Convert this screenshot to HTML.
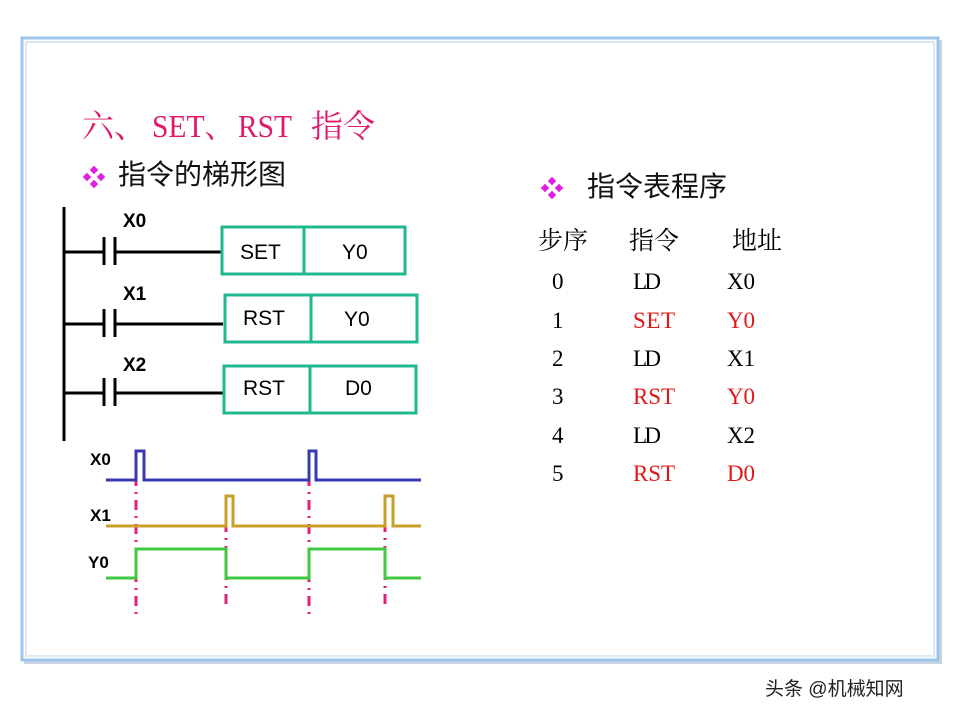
<!DOCTYPE html>
<html><head><meta charset="utf-8"><style>
html,body{margin:0;padding:0;background:#fff;width:960px;height:720px;overflow:hidden}
svg{display:block}
.cjk{font-family:"Liberation Serif","Noto Serif CJK SC","Noto Sans CJK SC",serif}
.sans{font-family:"Liberation Sans","Noto Sans CJK SC",sans-serif}
</style></head><body>
<svg width="960" height="720" viewBox="0 0 960 720" xmlns="http://www.w3.org/2000/svg">
<rect x="24" y="40" width="918" height="624" fill="#c8d4e0"/>
<rect x="22" y="38" width="916" height="622" fill="#fff" stroke="#9cc4ec" stroke-width="3"/>
<rect x="26" y="42" width="908" height="614" fill="none" stroke="#dbe9f7" stroke-width="2"/>

<g class="cjk" font-size="32" fill="#e0196c">
<text x="82" y="137">六、</text>
<text x="152" y="137" textLength="82" lengthAdjust="spacingAndGlyphs">SET、</text>
<text x="238" y="137" textLength="54" lengthAdjust="spacingAndGlyphs">RST</text>
<text x="311" y="137">指令</text>
</g>
<g fill="#e020e0"><rect x="91" y="167" width="6" height="6" transform="rotate(45 94 170)"/><rect x="84" y="174" width="6" height="6" transform="rotate(45 87 177)"/><rect x="98" y="174" width="6" height="6" transform="rotate(45 101 177)"/><rect x="91" y="181" width="6" height="6" transform="rotate(45 94 184)"/></g>
<text x="118" y="184" class="sans" font-size="28" fill="#111">指令的梯形图</text>

<g stroke="#000" stroke-width="3" fill="none">
<line x1="64" y1="207" x2="64" y2="441"/>
<line x1="64" y1="252" x2="103" y2="252"/><line x1="116" y1="252" x2="221" y2="252"/>
<line x1="64" y1="324" x2="103" y2="324"/><line x1="116" y1="324" x2="223" y2="324"/>
<line x1="64" y1="393" x2="103" y2="393"/><line x1="116" y1="393" x2="223" y2="393"/>
<line x1="104" y1="237" x2="104" y2="265"/><line x1="115" y1="237" x2="115" y2="265"/>
<line x1="104" y1="309" x2="104" y2="337"/><line x1="115" y1="309" x2="115" y2="337"/>
<line x1="104" y1="378" x2="104" y2="406"/><line x1="115" y1="378" x2="115" y2="406"/>
</g>
<g stroke="#20b890" stroke-width="3" fill="none">
<rect x="222" y="227" width="183" height="47"/><line x1="304" y1="227" x2="304" y2="274"/>
<rect x="225" y="295" width="192" height="47"/><line x1="311" y1="295" x2="311" y2="342"/>
<rect x="224" y="366" width="192" height="47"/><line x1="310" y1="366" x2="310" y2="413"/>
</g>
<g class="sans" font-size="21" fill="#000">
<text x="240" y="259">SET</text><text x="342" y="259">Y0</text>
<text x="243" y="325">RST</text><text x="344" y="326">Y0</text>
<text x="243" y="395">RST</text><text x="345" y="395">D0</text>
</g>
<g class="sans" font-size="19" font-weight="bold" fill="#000">
<text x="123" y="227">X0</text><text x="123" y="300">X1</text><text x="123" y="371">X2</text>
</g>

<g class="sans" font-size="17" font-weight="bold" fill="#000">
<text x="90" y="465">X0</text><text x="90" y="521">X1</text><text x="88" y="568">Y0</text>
</g>
<g stroke="#e0207a" stroke-width="3" stroke-dasharray="10,6,2,6" fill="none">
<line x1="136" y1="452" x2="136" y2="616"/>
<line x1="226" y1="498" x2="226" y2="608"/>
<line x1="309" y1="452" x2="309" y2="616"/>
<line x1="385" y1="498" x2="385" y2="605"/>
</g>
<polyline points="106,480 136,480 136,451 144,451 144,480 309,480 309,451 316,451 316,480 421,480" stroke="#3838b0" stroke-width="3" fill="none"/>
<polyline points="106,526 226,526 226,496 233,496 233,526 385,526 385,496 393,496 393,526 421,526" stroke="#c8a028" stroke-width="3" fill="none"/>
<polyline points="106,578 136,578 136,549 226,549 226,578 309,578 309,549 385,549 385,578 421,578" stroke="#40c840" stroke-width="3" fill="none"/>

<g fill="#e020e0"><rect x="549" y="178" width="6" height="6" transform="rotate(45 552 181)"/><rect x="542" y="185" width="6" height="6" transform="rotate(45 545 188)"/><rect x="556" y="185" width="6" height="6" transform="rotate(45 559 188)"/><rect x="549" y="192" width="6" height="6" transform="rotate(45 552 195)"/></g>
<text x="587" y="196" class="sans" font-size="28" fill="#111">指令表程序</text>
<g class="cjk" font-size="25" fill="#000">
<text x="538" y="249">步序</text><text x="629" y="249">指令</text><text x="732" y="249">地址</text>
</g>
<g class="cjk" font-size="23">
<text x="552" y="289" fill="#000">0</text><text x="633" y="289" fill="#000" textLength="28">LD</text><text x="727" y="289" fill="#000" textLength="28">X0</text>
<text x="552" y="328" fill="#000">1</text><text x="633" y="328" fill="#e01818" textLength="42">SET</text><text x="727" y="328" fill="#e01818" textLength="28">Y0</text>
<text x="552" y="366" fill="#000">2</text><text x="633" y="366" fill="#000" textLength="28">LD</text><text x="727" y="366" fill="#000" textLength="28">X1</text>
<text x="552" y="404" fill="#000">3</text><text x="633" y="404" fill="#e01818" textLength="42">RST</text><text x="727" y="404" fill="#e01818" textLength="28">Y0</text>
<text x="552" y="443" fill="#000">4</text><text x="633" y="443" fill="#000" textLength="28">LD</text><text x="727" y="443" fill="#000" textLength="28">X2</text>
<text x="552" y="481" fill="#000">5</text><text x="633" y="481" fill="#e01818" textLength="42">RST</text><text x="727" y="481" fill="#e01818" textLength="28">D0</text>
</g>

<text x="765" y="695" class="sans" font-size="19" fill="#222">头条 @机械知网</text>
</svg>
</body></html>
